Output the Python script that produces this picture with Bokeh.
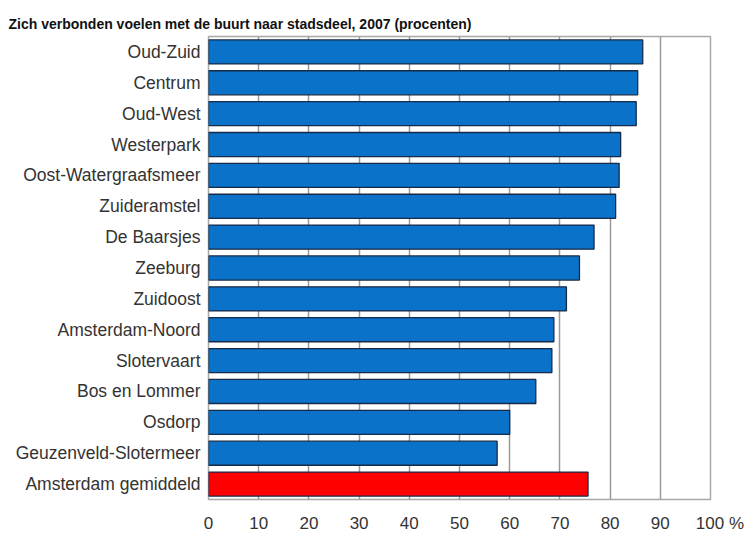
from bokeh.plotting import figure
from bokeh.models import FixedTicker, ColumnDataSource
from bokeh.embed import file_html
from bokeh.resources import INLINE

# Share of residents who feel connected to their neighbourhood, per district (2007, %)
districts = [
    "Oud-Zuid", "Centrum", "Oud-West", "Westerpark", "Oost-Watergraafsmeer",
    "Zuideramstel", "De Baarsjes", "Zeeburg", "Zuidoost", "Amsterdam-Noord",
    "Slotervaart", "Bos en Lommer", "Osdorp", "Geuzenveld-Slotermeer",
    "Amsterdam gemiddeld",
]
percentages = [86.5, 85.5, 85.2, 82.1, 81.8, 81.1, 76.8, 73.9, 71.3, 68.8,
               68.4, 65.2, 60.0, 57.5, 75.6]
bar_colors = ["#0a72c8"] * 14 + ["#ff0000"]
x_ticks = list(range(0, 101, 10))

src = ColumnDataSource(dict(district=districts, pct=percentages, color=bar_colors))

p = figure(
    width=746, height=535,
    y_range=list(reversed(districts)),
    x_range=(0, 100),
    output_backend="svg", toolbar_location=None,
    min_border_left=208, min_border_right=36,
    min_border_top=36, min_border_bottom=33,
    title="Zich verbonden voelen met de buurt naar stadsdeel, 2007 (procenten)",
)

p.title.text_font = "Liberation Sans"
p.title.text_font_style = "bold"
p.title.text_font_size = "14px"
p.title.text_color = "#111111"
p.title.align = "left"
p.title.offset = -200

p.hbar(y="district", right="pct", left=0, height=0.78, source=src,
       fill_color="color", line_color="#172a48", line_width=1.3)

# axes
p.xaxis.ticker = FixedTicker(ticks=x_ticks)
# last tick carries the unit; leading no-break spaces keep "100" under its gridline
p.xaxis.major_label_overrides = {100: "\u00a0\u00a0\u00a0\u00a0100\u00a0%"}
for ax in (p.xaxis, p.yaxis):
    ax.axis_line_color = None
    ax.major_tick_line_color = None
    ax.minor_tick_line_color = None
    ax.major_tick_in = 0
    ax.major_tick_out = 0
    ax.major_label_text_font = "Liberation Sans"
    ax.major_label_text_color = "#333333"
p.xaxis.major_label_text_font_size = "17px"
p.yaxis.major_label_text_font_size = "17.5px"
p.xaxis.major_label_standoff = 14
p.yaxis.major_label_standoff = 8

p.xgrid.ticker = FixedTicker(ticks=x_ticks)
p.xgrid.grid_line_color = "#9a9a9a"
p.xgrid.grid_line_width = 1.5
p.ygrid.grid_line_color = None

p.outline_line_color = "#a8a8a8"
p.outline_line_width = 1.5
p.background_fill_color = "white"
p.border_fill_color = "white"

open("out.html", "w").write(file_html(p, INLINE))
